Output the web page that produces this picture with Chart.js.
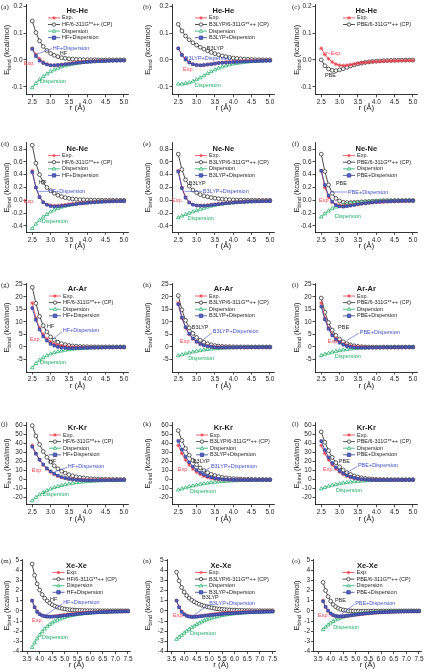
<!DOCTYPE html>
<html lang="en">
<head>
<meta charset="UTF-8" />
<title>Rare gas dimer binding energies</title>
<script src="https://cdn.jsdelivr.net/npm/chart.js@4.4.1/dist/chart.umd.min.js"></script>
<style>
  * { box-sizing: border-box; margin: 0; padding: 0; }
  body { width: 428px; height: 672px; background: #fff; position: relative; overflow: hidden; }
  canvas { position: absolute; }
</style>
</head>
<body>
<script>
// ---- distances (Å) ----
const rShort = [2.5, 2.6, 2.7, 2.8, 2.9, 3.0, 3.1, 3.2, 3.3, 3.4, 3.5, 3.6, 3.7, 3.8, 3.9, 4.0, 4.1, 4.2, 4.3, 4.4, 4.5, 4.6, 4.7, 4.8, 4.9, 5.0];
const rXe = [3.7, 3.8, 3.9, 4.0, 4.1, 4.2, 4.3, 4.4, 4.5, 4.6, 4.7, 4.8, 4.9, 5.0, 5.1, 5.2, 5.3, 5.4, 5.5, 5.6, 5.7, 5.8, 5.9, 6.0, 6.1, 6.2, 6.3, 6.4, 6.5, 6.6, 6.7, 6.8, 6.9, 7.0, 7.1, 7.2, 7.3, 7.4, 7.5];

// ---- He-He (kcal/mol) ----
const heExp = [0.043, 0.020, 0.004, -0.008, -0.016, -0.020, -0.021, -0.020, -0.018, -0.0155, -0.013, -0.011, -0.0095, -0.0082, -0.0072, -0.0063, -0.0055, -0.0048, -0.0042, -0.0037, -0.0033, -0.0029, -0.0026, -0.0023, -0.0021, -0.0019];
const heHF = [0.145, 0.102, 0.071, 0.050, 0.035, 0.024, 0.017, 0.012, 0.008, 0.006, 0.004, 0.003, 0.002, 0.0014, 0.001, 0.0007, 0.0005, 0.0003, 0.0002, 0.0001, 0, 0, 0, 0, 0, 0];
const heDispHF = [-0.104, -0.088, -0.074, -0.062, -0.052, -0.044, -0.037, -0.031, -0.026, -0.022, -0.019, -0.016, -0.0135, -0.0115, -0.0098, -0.0084, -0.0072, -0.0062, -0.0054, -0.0047, -0.0041, -0.0036, -0.0032, -0.0028, -0.0025, -0.0022];
const heHFplusD = [0.041, 0.014, -0.003, -0.012, -0.017, -0.020, -0.020, -0.019, -0.018, -0.016, -0.015, -0.013, -0.0115, -0.0101, -0.0088, -0.0077, -0.0067, -0.0059, -0.0052, -0.0046, -0.0041, -0.0036, -0.0032, -0.0028, -0.0025, -0.0022];
const heB3 = [0.133, 0.108, 0.089, 0.075, 0.064, 0.055, 0.047, 0.040, 0.034, 0.028, 0.023, 0.019, 0.015, 0.012, 0.009, 0.007, 0.0055, 0.004, 0.003, 0.0022, 0.0016, 0.0011, 0.0008, 0.0005, 0.0003, 0.0002];
const heDispB3 = [-0.090, -0.090, -0.088, -0.085, -0.080, -0.074, -0.067, -0.059, -0.051, -0.044, -0.037, -0.031, -0.026, -0.022, -0.018, -0.015, -0.013, -0.011, -0.009, -0.0077, -0.0066, -0.0057, -0.0049, -0.0043, -0.0037, -0.0033];
const heB3plusD = [0.043, 0.018, 0.001, -0.010, -0.016, -0.019, -0.020, -0.019, -0.017, -0.016, -0.014, -0.012, -0.011, -0.010, -0.009, -0.008, -0.0075, -0.007, -0.006, -0.0055, -0.005, -0.0046, -0.0041, -0.0038, -0.0034, -0.0031];
const hePBE = [0.000, -0.022, -0.034, -0.039, -0.040, -0.037, -0.033, -0.028, -0.023, -0.019, -0.015, -0.012, -0.0095, -0.0075, -0.006, -0.0048, -0.0038, -0.003, -0.0024, -0.0019, -0.0015, -0.0012, -0.001, -0.0008, -0.0006, -0.0005];

// ---- Ne-Ne ----
const neExp = [0.46, 0.20, 0.05, -0.03, -0.066, -0.081, -0.084, -0.081, -0.075, -0.068, -0.061, -0.054, -0.047, -0.042, -0.036, -0.032, -0.028, -0.025, -0.022, -0.019, -0.017, -0.015, -0.013, -0.012, -0.010, -0.009];
const neHF = [0.86, 0.58, 0.40, 0.28, 0.20, 0.15, 0.11, 0.08, 0.058, 0.042, 0.030, 0.021, 0.015, 0.011, 0.008, 0.006, 0.004, 0.003, 0.002, 0.0015, 0.001, 0.0007, 0.0005, 0.0003, 0.0002, 0.0001];
const neDispHF = [-0.44, -0.37, -0.31, -0.26, -0.22, -0.18, -0.15, -0.125, -0.105, -0.09, -0.077, -0.066, -0.057, -0.049, -0.042, -0.036, -0.031, -0.027, -0.024, -0.021, -0.018, -0.016, -0.014, -0.0125, -0.011, -0.010];
const neHFplusD = [0.44, 0.20, 0.05, -0.03, -0.07, -0.09, -0.095, -0.093, -0.088, -0.081, -0.073, -0.065, -0.058, -0.051, -0.045, -0.040, -0.035, -0.031, -0.027, -0.024, -0.021, -0.019, -0.017, -0.015, -0.013, -0.012];
const neB3 = [0.72, 0.48, 0.32, 0.22, 0.16, 0.12, 0.09, 0.07, 0.055, 0.043, 0.033, 0.025, 0.019, 0.014, 0.010, 0.007, 0.005, 0.0035, 0.0025, 0.0017, 0.0012, 0.0008, 0.0005, 0.0003, 0.0002, 0.0001];
const neDispB3 = [-0.27, -0.245, -0.22, -0.20, -0.18, -0.16, -0.14, -0.122, -0.105, -0.09, -0.077, -0.066, -0.057, -0.049, -0.042, -0.036, -0.031, -0.027, -0.024, -0.021, -0.019, -0.017, -0.015, -0.013, -0.012, -0.011];
const neB3plusD = [0.45, 0.19, 0.04, -0.035, -0.068, -0.08, -0.085, -0.084, -0.08, -0.074, -0.067, -0.06, -0.053, -0.047, -0.042, -0.037, -0.032, -0.028, -0.025, -0.022, -0.020, -0.018, -0.016, -0.014, -0.013, -0.012];
const nePBE = [0.72, 0.45, 0.24, 0.11, 0.03, -0.01, -0.03, -0.035, -0.035, -0.032, -0.028, -0.024, -0.020, -0.017, -0.014, -0.011, -0.009, -0.007, -0.0055, -0.0045, -0.0035, -0.0028, -0.0022, -0.0018, -0.0014, -0.0011];
const neDispPBE = [-0.26, -0.21, -0.165, -0.13, -0.105, -0.085, -0.07, -0.058, -0.048, -0.04, -0.034, -0.029, -0.025, -0.021, -0.018, -0.016, -0.014, -0.012, -0.011, -0.0095, -0.0085, -0.0075, -0.0067, -0.006, -0.0054, -0.0049];
const nePBEplusD = [0.46, 0.24, 0.075, -0.02, -0.075, -0.095, -0.10, -0.093, -0.083, -0.072, -0.062, -0.053, -0.045, -0.038, -0.032, -0.027, -0.023, -0.019, -0.0165, -0.014, -0.012, -0.0103, -0.0089, -0.0078, -0.0068, -0.006];

// ---- Ar-Ar ----
const arExp = [17.5, 11.5, 7.6, 5.0, 3.2, 2.0, 1.2, 0.7, 0.35, 0.13, 0.0, -0.09, -0.15, -0.19, -0.22, -0.24, -0.25, -0.26, -0.26, -0.26, -0.255, -0.25, -0.24, -0.23, -0.22, -0.21];
const arHF = [23.8, 17.4, 12.2, 8.5, 6.0, 4.0, 2.8, 1.9, 1.3, 0.9, 0.6, 0.4, 0.27, 0.18, 0.12, 0.08, 0.05, 0.035, 0.023, 0.015, 0.01, 0.007, 0.005, 0.003, 0.002, 0.0015];
const arDispHF = [-8.3, -6.6, -5.3, -4.3, -3.5, -2.8, -2.3, -1.9, -1.6, -1.3, -1.1, -0.9, -0.75, -0.63, -0.53, -0.45, -0.38, -0.33, -0.28, -0.24, -0.21, -0.18, -0.16, -0.14, -0.12, -0.11];
const arHFplusD = [15.5, 10.8, 6.9, 4.2, 2.5, 1.2, 0.5, 0.0, -0.3, -0.4, -0.5, -0.5, -0.48, -0.45, -0.41, -0.37, -0.33, -0.295, -0.257, -0.225, -0.2, -0.173, -0.155, -0.137, -0.118, -0.108];
const arB3 = [20.5, 14.8, 10.6, 7.6, 5.4, 3.8, 2.65, 1.85, 1.25, 0.85, 0.55, 0.35, 0.22, 0.14, 0.09, 0.055, 0.034, 0.021, 0.013, 0.008, 0.005, 0.003, 0.002, 0.0012, 0.0008, 0.0005];
const arDispB3 = [-3.5, -3.1, -2.7, -2.35, -2.0, -1.7, -1.45, -1.2, -1.0, -0.83, -0.69, -0.57, -0.47, -0.39, -0.33, -0.28, -0.24, -0.21, -0.18, -0.16, -0.14, -0.125, -0.11, -0.1, -0.09, -0.08];
const arB3plusD = [17.0, 11.7, 7.9, 5.25, 3.4, 2.1, 1.2, 0.65, 0.25, 0.02, -0.14, -0.22, -0.25, -0.25, -0.24, -0.225, -0.206, -0.189, -0.167, -0.152, -0.135, -0.122, -0.108, -0.099, -0.089, -0.0795];
const arPBE = [19.5, 13.8, 9.7, 6.7, 4.6, 3.1, 2.05, 1.3, 0.8, 0.45, 0.22, 0.08, 0.0, -0.04, -0.06, -0.065, -0.065, -0.06, -0.055, -0.05, -0.045, -0.04, -0.035, -0.03, -0.027, -0.024];
const arDispPBE = [-3.4, -2.9, -2.5, -2.1, -1.75, -1.45, -1.2, -0.98, -0.8, -0.65, -0.53, -0.43, -0.35, -0.29, -0.24, -0.2, -0.17, -0.145, -0.125, -0.107, -0.093, -0.081, -0.071, -0.063, -0.056, -0.05];
const arPBEplusD = [16.1, 10.9, 7.2, 4.6, 2.85, 1.65, 0.85, 0.32, 0.0, -0.2, -0.31, -0.35, -0.35, -0.33, -0.3, -0.265, -0.235, -0.205, -0.18, -0.157, -0.138, -0.121, -0.106, -0.093, -0.083, -0.074];

// ---- Kr-Kr ----
const krExp = [38, 29, 22, 16.2, 11.8, 8.4, 5.8, 3.9, 2.5, 1.5, 0.8, 0.3, 0.0, -0.18, -0.3, -0.37, -0.4, -0.4, -0.39, -0.37, -0.35, -0.32, -0.3, -0.27, -0.25, -0.23];
const krHF = [60, 48.5, 39, 31.2, 24.8, 19.6, 15.4, 12.0, 9.3, 7.2, 5.5, 4.2, 3.2, 2.4, 1.8, 1.35, 1.0, 0.74, 0.55, 0.4, 0.29, 0.21, 0.15, 0.11, 0.08, 0.06];
const krDispHF = [-23.5, -19.8, -16.8, -14.3, -12.2, -10.4, -8.9, -7.6, -6.5, -5.55, -4.75, -4.05, -3.45, -2.95, -2.5, -2.15, -1.85, -1.6, -1.38, -1.2, -1.05, -0.92, -0.81, -0.71, -0.63, -0.56];
const krHFplusD = [36.5, 28.7, 22.2, 16.9, 12.6, 9.2, 6.5, 4.4, 2.8, 1.65, 0.75, 0.15, -0.25, -0.55, -0.7, -0.8, -0.85, -0.86, -0.83, -0.8, -0.76, -0.71, -0.66, -0.6, -0.55, -0.5];
const krB3 = [54.5, 43.5, 34.5, 27.2, 21.3, 16.6, 12.9, 10.0, 7.7, 5.9, 4.5, 3.4, 2.55, 1.9, 1.4, 1.05, 0.78, 0.58, 0.43, 0.32, 0.24, 0.18, 0.13, 0.1, 0.07, 0.05];
const krDispB3 = [-11.5, -10.2, -9.0, -7.9, -6.9, -6.0, -5.2, -4.5, -3.9, -3.35, -2.9, -2.5, -2.15, -1.85, -1.6, -1.38, -1.2, -1.04, -0.91, -0.8, -0.7, -0.62, -0.55, -0.49, -0.44, -0.39];
const krB3plusD = [43.0, 33.3, 25.5, 19.3, 14.4, 10.6, 7.7, 5.5, 3.8, 2.55, 1.6, 0.9, 0.4, 0.05, -0.2, -0.33, -0.42, -0.46, -0.48, -0.48, -0.46, -0.44, -0.42, -0.39, -0.37, -0.34];
const krPBE = [53, 41.5, 32.2, 24.7, 18.8, 14.2, 10.6, 7.8, 5.7, 4.1, 2.9, 2.0, 1.35, 0.88, 0.55, 0.32, 0.16, 0.06, 0.0, -0.04, -0.06, -0.07, -0.075, -0.075, -0.072, -0.068];
const krDispPBE = [-10.2, -8.7, -7.4, -6.3, -5.35, -4.5, -3.8, -3.2, -2.7, -2.28, -1.92, -1.62, -1.37, -1.16, -0.98, -0.83, -0.71, -0.61, -0.52, -0.45, -0.39, -0.34, -0.3, -0.26, -0.23, -0.2];
const krPBEplusD = [42.8, 32.8, 24.8, 18.4, 13.45, 9.7, 6.8, 4.6, 3.0, 1.82, 0.98, 0.38, -0.02, -0.28, -0.43, -0.51, -0.55, -0.55, -0.52, -0.49, -0.45, -0.41, -0.375, -0.335, -0.302, -0.268];

// ---- Xe-Xe ----
const xeExp = [1.01, 0.36, -0.05, -0.3, -0.45, -0.52, -0.555, -0.56, -0.545, -0.52, -0.49, -0.455, -0.42, -0.385, -0.352, -0.322, -0.294, -0.268, -0.244, -0.221, -0.202, -0.184, -0.168, -0.153, -0.14, -0.128, -0.117, -0.107, -0.097, -0.089, -0.082, -0.075, -0.069, -0.063, -0.058, -0.053, -0.049, -0.045, -0.042];
const xeHF = [4.6, 3.5, 2.65, 2.05, 1.6, 1.25, 0.98, 0.77, 0.6, 0.47, 0.37, 0.29, 0.23, 0.18, 0.14, 0.11, 0.085, 0.066, 0.052, 0.04, 0.031, 0.024, 0.019, 0.015, 0.012, 0.009, 0.007, 0.0055, 0.0043, 0.0034, 0.0027, 0.0021, 0.0016, 0.0013, 0.001, 0.0008, 0.0006, 0.0005, 0.0004];
const xeDispHF = [-3.6, -3.15, -2.75, -2.38, -2.06, -1.78, -1.55, -1.35, -1.18, -1.03, -0.91, -0.8, -0.71, -0.63, -0.56, -0.5, -0.45, -0.4, -0.36, -0.32, -0.29, -0.26, -0.235, -0.212, -0.192, -0.174, -0.158, -0.144, -0.131, -0.12, -0.11, -0.1, -0.092, -0.085, -0.078, -0.072, -0.066, -0.061, -0.057];
const xeHFplusD = [1.0, 0.35, -0.1, -0.33, -0.46, -0.53, -0.57, -0.58, -0.58, -0.56, -0.54, -0.51, -0.48, -0.45, -0.42, -0.39, -0.365, -0.334, -0.308, -0.28, -0.259, -0.236, -0.216, -0.197, -0.18, -0.165, -0.151, -0.1385, -0.1267, -0.1166, -0.1073, -0.0979, -0.0904, -0.0837, -0.077, -0.0712, -0.0654, -0.0605, -0.0566];
const xeB3 = [3.8, 2.95, 2.3, 1.85, 1.5, 1.25, 1.05, 0.89, 0.76, 0.65, 0.56, 0.48, 0.41, 0.35, 0.3, 0.25, 0.21, 0.18, 0.15, 0.125, 0.105, 0.088, 0.073, 0.06, 0.05, 0.041, 0.034, 0.028, 0.023, 0.019, 0.015, 0.012, 0.01, 0.008, 0.006, 0.005, 0.004, 0.003, 0.0025];
const xeDispB3 = [-2.8, -2.6, -2.4, -2.2, -2.0, -1.82, -1.65, -1.49, -1.34, -1.2, -1.08, -0.97, -0.87, -0.78, -0.7, -0.63, -0.565, -0.51, -0.46, -0.415, -0.375, -0.34, -0.31, -0.28, -0.255, -0.232, -0.211, -0.193, -0.176, -0.161, -0.148, -0.136, -0.125, -0.115, -0.106, -0.098, -0.091, -0.084, -0.078];
const xeB3plusD = [1.0, 0.35, -0.1, -0.35, -0.5, -0.57, -0.6, -0.6, -0.58, -0.55, -0.52, -0.49, -0.46, -0.43, -0.4, -0.38, -0.355, -0.33, -0.31, -0.29, -0.27, -0.252, -0.237, -0.22, -0.205, -0.191, -0.177, -0.165, -0.153, -0.142, -0.133, -0.124, -0.115, -0.107, -0.1, -0.093, -0.087, -0.081, -0.0755];
const xePBE = [2.8, 2.0, 1.4, 0.95, 0.62, 0.4, 0.25, 0.15, 0.08, 0.04, 0.01, -0.01, -0.02, -0.03, -0.035, -0.035, -0.034, -0.032, -0.03, -0.028, -0.026, -0.024, -0.022, -0.02, -0.018, -0.016, -0.015, -0.013, -0.012, -0.011, -0.01, -0.009, -0.008, -0.007, -0.0065, -0.006, -0.0055, -0.005, -0.005];
const xeDispPBE = [-1.85, -1.6, -1.38, -1.2, -1.04, -0.9, -0.79, -0.69, -0.61, -0.54, -0.48, -0.43, -0.385, -0.345, -0.31, -0.278, -0.25, -0.225, -0.203, -0.183, -0.165, -0.149, -0.135, -0.122, -0.11, -0.1, -0.09, -0.082, -0.074, -0.067, -0.061, -0.056, -0.051, -0.047, -0.043, -0.04, -0.037, -0.034, -0.031];
const xePBEplusD = [0.95, 0.4, 0.02, -0.25, -0.42, -0.5, -0.54, -0.54, -0.53, -0.5, -0.47, -0.44, -0.405, -0.375, -0.345, -0.313, -0.284, -0.257, -0.233, -0.211, -0.191, -0.173, -0.157, -0.142, -0.128, -0.116, -0.105, -0.095, -0.086, -0.078, -0.071, -0.065, -0.059, -0.054, -0.0495, -0.046, -0.0425, -0.039, -0.036];

// ---- tick labels ----
const xTicksShort = [2.5, 3.0, 3.5, 4.0, 4.5, 5.0];
const xTicksXe = [3.5, 4.0, 4.5, 5.0, 5.5, 6.0, 6.5, 7.0, 7.5];
const heYTicks = [-0.1, 0.0, 0.1, 0.2];
const neYTicks = [-0.4, -0.2, 0.0, 0.2, 0.4, 0.6, 0.8];
const arYTicks = [-5, 0, 5, 10, 15, 20, 25];
const krYTicks = [-20, -10, 0, 10, 20, 30, 40, 50, 60];
const xeYTicks = [-4, -3, -2, -1, 0, 1, 2, 3, 4, 5];

// ---- per dimer settings ----
const dimers = [
  { name: 'He-He', r: rShort, exp: heExp, xMin: 2.33, xMax: 5.13, xTicks: xTicksShort, yMin: -0.13, yMax: 0.205, yTicks: heYTicks, yDec: 1 },
  { name: 'Ne-Ne', r: rShort, exp: neExp, xMin: 2.33, xMax: 5.13, xTicks: xTicksShort, yMin: -0.5, yMax: 0.9, yTicks: neYTicks, yDec: 1 },
  { name: 'Ar-Ar', r: rShort, exp: arExp, xMin: 2.33, xMax: 5.13, xTicks: xTicksShort, yMin: -10, yMax: 25.5, yTicks: arYTicks, yDec: 0 },
  { name: 'Kr-Kr', r: rShort, exp: krExp, xMin: 2.33, xMax: 5.13, xTicks: xTicksShort, yMin: -28, yMax: 64, yTicks: krYTicks, yDec: 0 },
  { name: 'Xe-Xe', r: rXe, exp: xeExp, xMin: 3.32, xMax: 7.6, xTicks: xTicksXe, yMin: -4, yMax: 5.05, yTicks: xeYTicks, yDec: 0 }
];

// ---- page layout (pixels) ----
const cols = [
  { cellLeft: 0, cellW: 143, letterX: 1, yTitleX: 7 },
  { cellLeft: 143, cellW: 143, letterX: 143, yTitleX: 148 },
  { cellLeft: 286, cellW: 142, letterX: 292, yTitleX: 297 }
];
const rowsGeo = [
  { cellTop: 0, cellH: 124, top: 3, bottom: 94.75, lefts: [26, 172, 315], width: 102.7, legendDx: [22, 23, 28] },
  { cellTop: 124, cellH: 138, top: 142.6, bottom: 232.4, lefts: [26, 172, 315], width: 102.7, legendDx: [22, 23, 28] },
  { cellTop: 262, cellH: 136, top: 283, bottom: 372, lefts: [26, 172, 315], width: 102.7, legendDx: [23, 23, 28] },
  { cellTop: 398, cellH: 130, top: 422, bottom: 504.8, lefts: [26, 172, 315], width: 102.7, legendDx: [23, 24, 28] },
  { cellTop: 528, cellH: 144, top: 559.5, bottom: 651.5, lefts: [22.5, 167, 313.5], width: 108, legendDx: [30, 28, 29] }
];
const WY = 14, HX = 18.3;
const FONT = '"Liberation Sans", Arial, sans-serif';
const C = { exp: '#ec3f4c', m: '#2b2b2b', disp: '#23ad6b', sum: '#33429a', sumFill: '#5565c0', sumText: '#4052c6', text: '#1e1e1e' };

// ---- panels ----
const panels = [
  { letter: 'a', row: 0, col: 0, method: 'HF', m: heHF, d: heDispHF, s: heHFplusD, notes: [
    { k: 'sum', t: 'HF+Dispersion', x: 3.06, y: 0.044, l: [2.6, 0.02, 3.04, 0.042] },
    { k: 'm', t: 'HF', x: 3.25, y: 0.022 },
    { k: 'exp', t: 'Exp.', x: 2.57, y: -0.015, al: 'right' },
    { k: 'disp', t: 'Dispersion', x: 2.71, y: -0.08 } ] },
  { letter: 'b', row: 0, col: 1, method: 'B3LYP', m: heB3, d: heDispB3, s: heB3plusD, notes: [
    { k: 'm', t: 'B3LYP', x: 3.28, y: 0.044 },
    { k: 'sum', t: 'B3LYP+Dispersion', x: 2.68, y: 0.004 },
    { k: 'exp', t: 'Exp.', x: 2.63, y: -0.036 },
    { k: 'disp', t: 'Dispersion', x: 2.95, y: -0.094 } ] },
  { letter: 'c', row: 0, col: 2, method: 'PBE', m: hePBE, notes: [
    { k: 'exp', t: 'Exp.', x: 2.76, y: 0.022, l: [2.6, 0.03, 2.74, 0.023] },
    { k: 'm', t: 'PBE', x: 2.6, y: -0.058 } ] },
  { letter: 'd', row: 1, col: 0, method: 'HF', m: neHF, d: neDispHF, s: neHFplusD, notes: [
    { k: 'm', t: 'HF', x: 2.68, y: 0.28 },
    { k: 'sum', t: 'HF+Dispersion', x: 2.95, y: 0.14, l: [2.62, 0.14, 2.93, 0.14] },
    { k: 'exp', t: 'Exp.', x: 2.57, y: -0.02, al: 'right' },
    { k: 'disp', t: 'Dispersion', x: 2.76, y: -0.33 } ] },
  { letter: 'e', row: 1, col: 1, method: 'B3LYP', m: neB3, d: neDispB3, s: neB3plusD, notes: [
    { k: 'm', t: 'B3LYP', x: 2.79, y: 0.27 },
    { k: 'sum', t: 'B3LYP+Dispersion', x: 3.17, y: 0.14, l: [2.67, 0.14, 3.15, 0.14] },
    { k: 'exp', t: 'Exp.', x: 2.63, y: -0.01, al: 'right' },
    { k: 'disp', t: 'Dispersion', x: 2.76, y: -0.29 } ] },
  { letter: 'f', row: 1, col: 2, method: 'PBE', m: nePBE, d: neDispPBE, s: nePBEplusD, notes: [
    { k: 'm', t: 'PBE', x: 2.9, y: 0.27 },
    { k: 'sum', t: 'PBE+Dispersion', x: 3.23, y: 0.13, l: [2.74, 0.13, 3.21, 0.13] },
    { k: 'exp', t: 'Exp.', x: 2.74, y: -0.01, al: 'right' },
    { k: 'disp', t: 'Dispersion', x: 2.87, y: -0.25 } ] },
  { letter: 'g', row: 2, col: 0, method: 'HF', m: arHF, d: arDispHF, s: arHFplusD, notes: [
    { k: 'm', t: 'HF', x: 2.9, y: 8 },
    { k: 'sum', t: 'HF+Dispersion', x: 3.33, y: 6.5, l: [3.04, 2.9, 3.31, 6.0] },
    { k: 'exp', t: 'Exp.', x: 2.74, y: 2.9, al: 'right' },
    { k: 'disp', t: 'Dispersion', x: 2.71, y: -6.2 } ] },
  { letter: 'h', row: 2, col: 1, method: 'B3LYP', m: arB3, d: arDispB3, s: arB3plusD, notes: [
    { k: 'm', t: 'B3LYP', x: 2.87, y: 7.8 },
    { k: 'sum', t: 'B3LYP+Dispersion', x: 3.44, y: 6.0, l: [3.15, 2.6, 3.42, 5.6] },
    { k: 'exp', t: 'Exp.', x: 2.55, y: 2.3 },
    { k: 'disp', t: 'Dispersion', x: 2.77, y: -4.5 } ] },
  { letter: 'i', row: 2, col: 2, method: 'PBE', m: arPBE, d: arDispPBE, s: arPBEplusD, notes: [
    { k: 'm', t: 'PBE', x: 2.96, y: 7.8 },
    { k: 'sum', t: 'PBE+Dispersion', x: 3.55, y: 5.9, l: [3.2, 2.6, 3.53, 5.5] },
    { k: 'exp', t: 'Exp.', x: 2.68, y: 2.1 },
    { k: 'disp', t: 'Dispersion', x: 2.87, y: -4 } ] },
  { letter: 'j', row: 3, col: 0, method: 'HF', m: krHF, d: krDispHF, s: krHFplusD, notes: [
    { k: 'm', t: 'HF', x: 2.95, y: 20 },
    { k: 'sum', t: 'HF+Dispersion', x: 3.47, y: 14.4, l: [3.06, 7.8, 3.45, 13.5] },
    { k: 'exp', t: 'Exp.', x: 2.49, y: 10 },
    { k: 'disp', t: 'Dispersion', x: 2.79, y: -16.7 } ] },
  { letter: 'k', row: 3, col: 1, method: 'B3LYP', m: krB3, d: krDispB3, s: krB3plusD, notes: [
    { k: 'm', t: 'B3LYP', x: 2.9, y: 20 },
    { k: 'sum', t: 'B3LYP+Dispersion', x: 3.39, y: 14.4, l: [3.15, 7.8, 3.37, 13.5] },
    { k: 'exp', t: 'Exp.', x: 2.49, y: 11 },
    { k: 'disp', t: 'Dispersion', x: 2.82, y: -13.5 } ] },
  { letter: 'l', row: 3, col: 2, method: 'PBE', m: krPBE, d: krDispPBE, s: krPBEplusD, notes: [
    { k: 'm', t: 'PBE', x: 2.98, y: 20 },
    { k: 'sum', t: 'PBE+Dispersion', x: 3.5, y: 15.5, l: [3.2, 7.8, 3.48, 14.5] },
    { k: 'exp', t: 'Exp.', x: 2.55, y: 11 },
    { k: 'disp', t: 'Dispersion', x: 2.9, y: -12 } ] },
  { letter: 'm', row: 4, col: 0, method: 'HF', m: xeHF, d: xeDispHF, s: xeHFplusD, notes: [
    { k: 'm', t: 'HF', x: 4.41, y: 1.1 },
    { k: 'sum', t: 'HF+Dispersion', x: 4.93, y: 0.8, l: [4.13, -0.6, 4.91, 0.7] },
    { k: 'exp', t: 'Exp.', x: 3.7, y: -0.9 },
    { k: 'disp', t: 'Dispersion', x: 4.09, y: -2.65 } ] },
  { letter: 'n', row: 4, col: 1, method: 'B3LYP', m: xeB3, d: xeDispB3, s: xeB3plusD, notes: [
    { k: 'm', t: 'B3LYP', x: 4.71, y: 1.3 },
    { k: 'sum', t: 'B3LYP+Dispersion', x: 4.99, y: 0.7, l: [4.35, -0.5, 4.97, 0.6] },
    { k: 'exp', t: 'Exp.', x: 3.56, y: -0.5 },
    { k: 'disp', t: 'Dispersion', x: 4.23, y: -2.2 } ] },
  { letter: 'o', row: 4, col: 2, method: 'PBE', m: xePBE, d: xeDispPBE, s: xePBEplusD, notes: [
    { k: 'm', t: 'PBE', x: 4.17, y: 1.05 },
    { k: 'sum', t: 'PBE+Dispersion', x: 4.97, y: 0.75, l: [4.37, -0.45, 4.95, 0.65] },
    { k: 'exp', t: 'Exp.', x: 3.5, y: -0.45 },
    { k: 'disp', t: 'Dispersion', x: 4.1, y: -1.65 } ] }
];

const noteColor = { exp: C.exp, m: C.text, disp: C.disp, sum: C.sumText };

// small marker painter for the in-plot legend
function marker(ctx, style, x, y, r) {
  ctx.beginPath();
  if (style === 'circle') {
    ctx.arc(x, y, r, 0, Math.PI * 2);
  } else if (style === 'triangle') {
    ctx.moveTo(x, y - r * 1.1);
    ctx.lineTo(x + r, y + r * 0.7);
    ctx.lineTo(x - r, y + r * 0.7);
    ctx.closePath();
  } else if (style === 'rect') {
    ctx.rect(x - r, y - r, r * 2, r * 2);
  } else {
    ctx.moveTo(x - r, y); ctx.lineTo(x + r, y);
    ctx.moveTo(x, y - r); ctx.lineTo(x, y + r);
    ctx.moveTo(x - r * 0.7, y - r * 0.7); ctx.lineTo(x + r * 0.7, y + r * 0.7);
    ctx.moveTo(x - r * 0.7, y + r * 0.7); ctx.lineTo(x + r * 0.7, y - r * 0.7);
  }
  if (style !== 'star') ctx.fill();
  ctx.stroke();
}

const decor = {
  id: 'decor',
  afterDraw(chart, args, o) {
    const { ctx, chartArea: a } = chart;
    const xs = chart.scales.x, ys = chart.scales.y;
    ctx.save();
    ctx.textBaseline = 'middle';

    // panel letter
    ctx.fillStyle = C.text;
    ctx.font = '7px "Liberation Serif", serif';
    ctx.textAlign = 'left';
    ctx.fillText('(' + o.letter + ')', o.letterX, a.top + 2);

    // title
    ctx.font = 'bold 7.5px ' + FONT;
    ctx.textAlign = 'center';
    ctx.fillText(o.title, (a.left + a.right) / 2, a.top + 6);

    // legend
    ctx.font = '5.5px ' + FONT;
    ctx.textAlign = 'left';
    chart.data.datasets.forEach((ds, i) => {
      const y = a.top + 13 + i * 6.6;
      const x0 = a.left + o.legendDx;
      ctx.strokeStyle = ds.borderColor;
      ctx.lineWidth = 0.8;
      ctx.beginPath(); ctx.moveTo(x0, y); ctx.lineTo(x0 + 12, y); ctx.stroke();
      ctx.fillStyle = ds.pointBackgroundColor;
      ctx.strokeStyle = ds.pointBorderColor;
      ctx.lineWidth = 0.75;
      marker(ctx, ds.pointStyle, x0 + 6, y, 1.7);
      ctx.fillStyle = C.text;
      ctx.fillText(ds.label, x0 + 14, y);
    });

    // labels on the curves
    ctx.font = '5.5px ' + FONT;
    o.notes.forEach(n => {
      ctx.strokeStyle = noteColor[n.k];
      ctx.fillStyle = noteColor[n.k];
      if (n.l) {
        ctx.lineWidth = 0.6;
        ctx.beginPath();
        ctx.moveTo(xs.getPixelForValue(n.l[0]), ys.getPixelForValue(n.l[1]));
        ctx.lineTo(xs.getPixelForValue(n.l[2]), ys.getPixelForValue(n.l[3]));
        ctx.stroke();
      }
      ctx.textAlign = n.al || 'left';
      ctx.fillText(n.t, xs.getPixelForValue(n.x), ys.getPixelForValue(n.y));
    });

    // y axis title with subscript
    ctx.fillStyle = C.text;
    ctx.translate(o.yTitleX, (a.top + a.bottom) / 2);
    ctx.rotate(-Math.PI / 2);
    ctx.textAlign = 'left';
    const big = '7.5px ' + FONT, small = '5.5px ' + FONT;
    ctx.font = big; const wE = ctx.measureText('E').width; const wR = ctx.measureText(' (kcal/mol)').width;
    ctx.font = small; const wS = ctx.measureText('bind').width;
    let px = -(wE + wS + wR) / 2;
    ctx.font = big; ctx.fillText('E', px, 0); px += wE;
    ctx.font = small; ctx.fillText('bind', px, 2.2); px += wS;
    ctx.font = big; ctx.fillText(' (kcal/mol)', px, 0);
    ctx.restore();
  }
};

function series(r, vals) {
  return r.map((x, i) => ({ x: x, y: vals[i] }));
}

panels.forEach(p => {
  const dim = dimers[p.row], g = rowsGeo[p.row], c = cols[p.col];
  const cv = document.createElement('canvas');
  cv.width = c.cellW; cv.height = g.cellH;
  cv.style.left = c.cellLeft + 'px'; cv.style.top = g.cellTop + 'px';
  cv.style.width = c.cellW + 'px'; cv.style.height = g.cellH + 'px';
  document.body.appendChild(cv);

  const L = g.lefts[p.col] - c.cellLeft;
  const R = L + g.width;
  const padding = {
    left: L - WY,
    right: c.cellW - R,
    top: g.top - g.cellTop,
    bottom: g.cellH - (g.bottom - g.cellTop) - HX
  };

  const line = { borderWidth: 0.85, tension: 0, pointBorderWidth: 0.75, pointHoverRadius: 0 };
  const datasets = [
    Object.assign({ label: 'Exp.', data: series(dim.r, dim.exp), borderColor: C.exp,
      pointStyle: 'star', pointRadius: 2, pointBorderColor: C.exp, pointBackgroundColor: C.exp, order: 1 }, line),
    Object.assign({ label: p.method + '/6-311G**++ (CP)', data: series(dim.r, p.m), borderColor: C.m,
      pointStyle: 'circle', pointRadius: 1.9, pointBorderColor: C.m, pointBackgroundColor: '#ffffff', order: 3 }, line)
  ];
  if (p.d) datasets.push(Object.assign({ label: 'Dispersion', data: series(dim.r, p.d), borderColor: C.disp,
    pointStyle: 'triangle', pointRadius: 2.1, pointBorderColor: C.disp, pointBackgroundColor: '#ffffff', order: 2 }, line));
  if (p.s) datasets.push(Object.assign({ label: p.method + '+Dispersion', data: series(dim.r, p.s), borderColor: C.sum,
    pointStyle: 'rect', pointRadius: 1.8, pointBorderColor: C.sum, pointBackgroundColor: C.sumFill, order: 0 }, line));

  const axisBase = {
    type: 'linear',
    grid: { display: true, drawOnChartArea: false, drawTicks: true, tickLength: 2.5, color: '#000', lineWidth: 0.7 },
    border: { display: true, color: '#000', width: 0.8 }
  };

  new Chart(cv, {
    type: 'line',
    data: { datasets },
    options: {
      responsive: false,
      animation: false,
      events: [],
      layout: { padding },
      plugins: {
        legend: { display: false },
        tooltip: { enabled: false },
        decor: { letter: p.letter, title: dim.name, legendDx: g.legendDx[p.col], notes: p.notes,
                 letterX: c.letterX - c.cellLeft, yTitleX: c.yTitleX - c.cellLeft }
      },
      scales: {
        x: Object.assign({}, axisBase, {
          min: dim.xMin, max: dim.xMax,
          afterBuildTicks: s => { s.ticks = dim.xTicks.map(v => ({ value: v })); },
          afterFit: s => { s.height = HX; },
          ticks: { font: { size: 6.5, family: FONT }, color: C.text, padding: 1, maxRotation: 0, autoSkip: false,
                   callback: v => Number(v).toFixed(1) },
          title: { display: true, text: 'r (Å)', font: { size: 8, family: FONT }, color: C.text, padding: 0 }
        }),
        y: Object.assign({}, axisBase, {
          min: dim.yMin, max: dim.yMax,
          afterBuildTicks: s => { s.ticks = dim.yTicks.map(v => ({ value: v })); },
          afterFit: s => { s.width = WY; },
          ticks: { font: { size: 6.5, family: FONT }, color: C.text, padding: 1, autoSkip: false,
                   callback: v => Number(v).toFixed(dim.yDec) }
        })
      }
    },
    plugins: [decor]
  });
});
</script>
</body>
</html>
